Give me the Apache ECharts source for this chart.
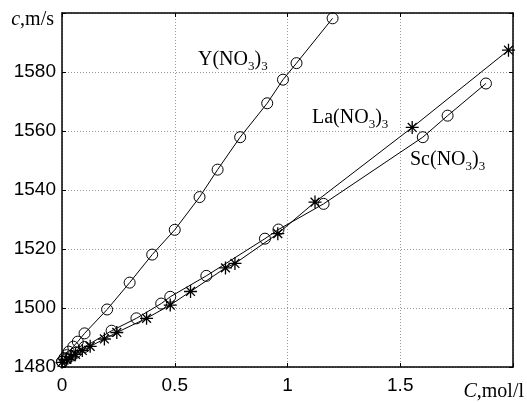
<!DOCTYPE html>
<html>
<head>
<meta charset="utf-8">
<script src="https://cdn.jsdelivr.net/npm/echarts@6/dist/echarts.min.js"></script>
<style>html,body{margin:0;padding:0;background:#fff;}#c{width:527px;height:403px;}</style>
</head>
<body>
<div id="c"></div>
<script>
// Data
var yX = [0, 0.01, 0.02, 0.03, 0.05, 0.07, 0.1, 0.2, 0.3, 0.4, 0.5, 0.61, 0.69, 0.79, 0.91, 0.98, 1.04, 1.2];
var yY = [1481.8, 1483, 1484, 1485.2, 1486.9, 1488.6, 1491.4, 1499.5, 1508.6, 1518.1, 1526.5, 1537.6, 1546.9, 1557.9, 1569.4, 1577.4, 1583, 1598.2];
var scX = [0, 0.02, 0.04, 0.06, 0.1, 0.22, 0.33, 0.44, 0.48, 0.64, 0.9, 0.96, 1.16, 1.6, 1.71, 1.88];
var scY = [1481.8, 1482.8, 1483.8, 1484.8, 1486.8, 1492.3, 1496.5, 1501.5, 1503.8, 1510.9, 1523.5, 1526.6, 1535.3, 1557.9, 1565.2, 1576.1];
var laX = [0, 0.02, 0.04, 0.06, 0.09, 0.125, 0.188, 0.243, 0.375, 0.48, 0.57, 0.725, 0.767, 0.957, 1.122, 1.553, 1.98];
var laY = [1481.6, 1482.6, 1483.4, 1484.3, 1485.6, 1487, 1489.5, 1491.7, 1496.5, 1501, 1505.6, 1513.6, 1515.1, 1525.2, 1535.9, 1561.2, 1587.4];
var xTicks = [0, 0.5, 1, 1.5, 2];
var yTicks = [1480, 1500, 1520, 1540, 1560, 1580, 1600];

function pairs(xs, ys) { return xs.map(function (x, i) { return [x, ys[i]]; }); }

var chart = echarts.init(document.getElementById('c'));
var star = 'path://M0,5L10,5M5,0L5,10M1.6,1.6L8.4,8.4M1.6,8.4L8.4,1.6';
var serifFont = 'Liberation Serif';
var subRich = {
  n: { fontFamily: serifFont, fontSize: 20, lineHeight: 26, verticalAlign: 'middle', color: '#000' },
  s: { fontFamily: serifFont, fontSize: 13, lineHeight: 13, verticalAlign: 'bottom', color: '#000' },
  i: { fontFamily: serifFont, fontSize: 20, fontStyle: 'italic', lineHeight: 26, color: '#000' }
};
var gridLine = { show: true, lineStyle: { color: '#9a9a9a', type: [1, 2], width: 1 } };
var axisLineStyle = { show: true, onZero: false, lineStyle: { color: '#000', width: 1.5 } };
var tickStyle = { show: true, inside: true, length: 4, lineStyle: { color: '#000' } };

function lineSeries(name, data, symbol, size, bw) {
  return {
    name: name, type: 'line', data: data, symbol: symbol, symbolSize: size,
    showAllSymbol: true,
    lineStyle: { color: '#000', width: 1 },
    itemStyle: { color: 'rgba(0,0,0,0)', borderColor: '#000', borderWidth: bw },
    emphasis: { disabled: true }
  };
}

chart.setOption({
  animation: false,
  grid: { left: 62, right: 14, top: 13, bottom: 36 },
  xAxis: [{
    type: 'value', min: xTicks[0], max: xTicks[xTicks.length - 1], interval: 0.5,
    axisLine: axisLineStyle, axisTick: tickStyle,
    axisLabel: {
      margin: 9, fontSize: 19, fontFamily: 'Liberation Sans', color: '#000',
      formatter: function (v) { return v === 2 ? '' : String(v); }
    },
    splitLine: gridLine
  }, {
    type: 'value', position: 'top', min: xTicks[0], max: xTicks[xTicks.length - 1], interval: 0.5,
    axisLine: axisLineStyle, axisTick: tickStyle,
    axisLabel: { show: false }, splitLine: { show: false }
  }],
  yAxis: [{
    type: 'value', min: yTicks[0], max: yTicks[yTicks.length - 1], interval: 20,
    axisLine: axisLineStyle, axisTick: tickStyle,
    axisLabel: {
      margin: 6, fontSize: 19, fontFamily: 'Liberation Sans', color: '#000',
      formatter: function (v) { return v === 1600 ? '' : String(v); }
    },
    splitLine: gridLine
  }, {
    type: 'value', position: 'right', min: yTicks[0], max: yTicks[yTicks.length - 1], interval: 20,
    axisLine: axisLineStyle, axisTick: tickStyle,
    axisLabel: { show: false }, splitLine: { show: false }
  }],
  series: [
    lineSeries('Y(NO3)3', pairs(yX, yY), 'circle', 11, 1),
    lineSeries('Sc(NO3)3', pairs(scX, scY), 'circle', 11, 1),
    lineSeries('La(NO3)3', pairs(laX, laY), star, 13, 1.3)
  ],
  graphic: [
    { type: 'text', x: 54, y: 20, style: { text: '{i|c}{n|,m/s}', rich: subRich, align: 'right', verticalAlign: 'middle' } },
    { type: 'text', x: 524, y: 392, style: { text: '{i|C}{n|,mol/l}', rich: subRich, align: 'right', verticalAlign: 'middle' } },
    { type: 'text', x: 198, y: 60, style: { text: '{n|Y(NO}{s|3}{n|)}{s|3}', rich: subRich, align: 'left', verticalAlign: 'middle' } },
    { type: 'text', x: 312, y: 118, style: { text: '{n|La(NO}{s|3}{n|)}{s|3}', rich: subRich, align: 'left', verticalAlign: 'middle' } },
    { type: 'text', x: 410, y: 160, style: { text: '{n|Sc(NO}{s|3}{n|)}{s|3}', rich: subRich, align: 'left', verticalAlign: 'middle' } }
  ]
});
</script>
</body>
</html>
